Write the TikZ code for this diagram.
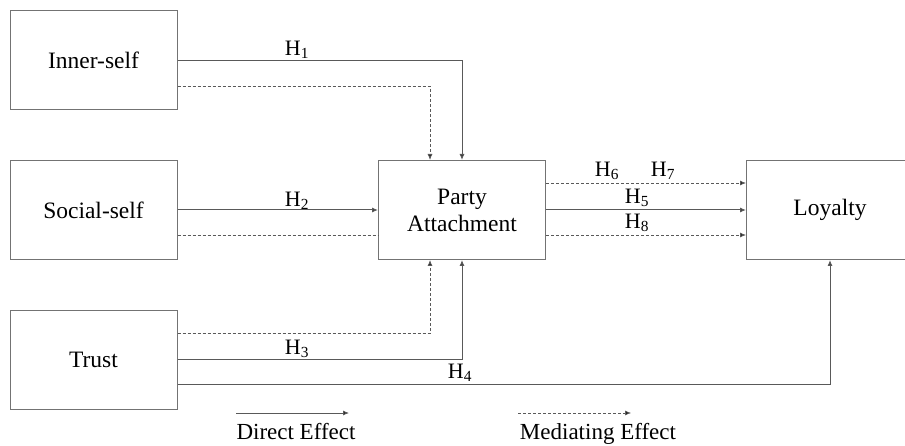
\documentclass[tikz,border=0pt]{standalone}
\usepackage{fontspec}
\setmainfont{Liberation Serif}
\usetikzlibrary{arrows.meta}
\tikzset{
  box/.style={draw=black!55, line width=1pt, minimum width=167pt, minimum height=99pt, font=\fontsize{23.5}{26}\selectfont, align=center, inner sep=0pt},
  tip/.style={-{Latex[length=6pt,width=5pt,fill=black!85]}},
  direct/.style={draw=black!65, line width=1pt, tip},
  mediate/.style={draw=black!65, line width=0.8pt, dash pattern=on 3pt off 2pt, tip},
  mediateplain/.style={draw=black!65, line width=0.8pt, dash pattern=on 3pt off 2pt},
  hlab/.style={font=\fontsize{22}{24}\selectfont, inner sep=0pt},
  leg/.style={font=\fontsize{23}{26}\selectfont, inner sep=0pt}
}
\begin{document}
\begin{tikzpicture}[x=1pt,y=1pt]
\useasboundingbox (0,0) rectangle (905,445);
\node[box] (inner) at (93.5,384.5) {Inner-self};
\node[box] (social) at (93.5,235) {Social-self};
\node[box] (trust) at (93.5,85) {Trust};
\node[box] (party) at (462,235) {Party\\[1pt]Attachment};
\node[box] (loyal) at (830,235) {Loyalty};

% Inner-self
\draw[direct] (inner.east) -| (party.north);
\draw[mediate] ([yshift=-26pt]inner.east) -| ([xshift=-32pt]party.north);
\node[hlab] (h1) at (297,395) {H\textsubscript{1}};

% Social-self
\draw[direct] (social.east) -- (party.west);
\draw[mediateplain] ([yshift=-25pt]social.east) -- ([yshift=-25pt]party.west);
\node[hlab] (h2) at (297,244) {H\textsubscript{2}};

% Trust
\draw[mediate] ([yshift=27pt]trust.east) -| ([xshift=-32pt]party.south);
\draw[direct] ([yshift=1pt]trust.east) -| (party.south);
\draw[direct] ([yshift=-24pt]trust.east) -| (loyal.south);
\node[hlab] (h3) at (297,96) {H\textsubscript{3}};
\node[hlab] (h4) at (460,72) {H\textsubscript{4}};

% Party -> Loyalty
\draw[mediate] ([yshift=27pt]party.east) -- ([yshift=27pt]loyal.west);
\draw[direct] (party.east) -- (loyal.west);
\draw[mediate] ([yshift=-25pt]party.east) -- ([yshift=-25pt]loyal.west);
\node[hlab] (h6) at (607,274) {H\textsubscript{6}};
\node[hlab] (h7) at (663,274) {H\textsubscript{7}};
\node[hlab] (h5) at (637,247) {H\textsubscript{5}};
\node[hlab] (h8) at (637,222) {H\textsubscript{8}};

% Legend
\coordinate (d1) at (236,32);
\coordinate (d2) at (349,32);
\draw[direct, line width=0.8pt] (d1) -- (d2);
\node[leg, anchor=base] (dl) at (296,6) {Direct Effect};
\coordinate (m1) at (518,32);
\coordinate (m2) at (631,32);
\draw[mediate, line width=0.6pt] (m1) -- (m2);
\node[leg, anchor=base] (ml) at (598,6) {Mediating Effect};
\end{tikzpicture}
\end{document}
